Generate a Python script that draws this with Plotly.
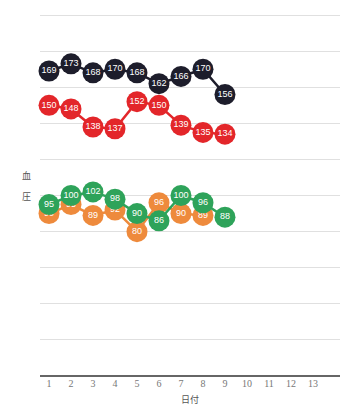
import plotly.graph_objects as go

days = list(range(1, 14))
x_black = [1, 2, 3, 4, 5, 6, 7, 8, 9]
black = [169, 173, 168, 170, 168, 162, 166, 170, 156]
x_red = [1, 2, 3, 4, 5, 6, 7, 8, 9]
red = [150, 148, 138, 137, 152, 150, 139, 135, 134]
x_orange = [1, 2, 3, 4, 5, 6, 7, 8]
orange = [90, 95, 89, 92, 80, 96, 90, 89]
x_green = [1, 2, 3, 4, 5, 6, 7, 8, 9]
green = [95, 100, 102, 98, 90, 86, 100, 96, 88]

series = [
    (x_black, black, "#1d1d2b"),
    (x_red, red, "#e3262a"),
    (x_orange, orange, "#ee8a3c"),
    (x_green, green, "#2ea35a"),
]

fig = go.Figure()
for xs, ys, col in series:
    fig.add_trace(go.Scatter(
        x=xs, y=ys, mode="lines+markers+text",
        text=[str(v) for v in ys], textposition="middle center",
        textfont=dict(color="white", size=9, family="Liberation Sans"),
        line=dict(color=col, width=2.5),
        marker=dict(color=col, size=21, line=dict(width=0)),
        showlegend=False, cliponaxis=False,
    ))

fig.update_layout(
    width=340, height=416,
    margin=dict(l=40, r=0, t=14, b=40),
    paper_bgcolor="white", plot_bgcolor="white",
    xaxis=dict(range=[0.59, 14.23], tickmode="array", tickvals=days,
               ticktext=[str(d) for d in days], showgrid=False, zeroline=False,
               tickfont=dict(size=10, color="#777", family="Liberation Serif"),
               title=dict(text="日付", font=dict(size=9, color="#555", family="Noto Sans CJK JP"), standoff=8)),
    yaxis=dict(range=[0, 200.6], tickmode="array", tickvals=list(range(0, 201, 20)),
               showticklabels=False, showgrid=True,
               gridcolor="#e0e0e0", gridwidth=1, zeroline=True, zerolinecolor="#666",
               zerolinewidth=1.5),
    annotations=[
        dict(text="血", xref="paper", yref="paper", x=-0.045, y=0.555,
             showarrow=False, xanchor="center", yanchor="middle",
             font=dict(size=9, color="#555", family="Noto Sans CJK JP")),
        dict(text="圧", xref="paper", yref="paper", x=-0.045, y=0.495,
             showarrow=False, xanchor="center", yanchor="middle",
             font=dict(size=9, color="#555", family="Noto Sans CJK JP")),
    ],
)

fig.write_html("out.html")
